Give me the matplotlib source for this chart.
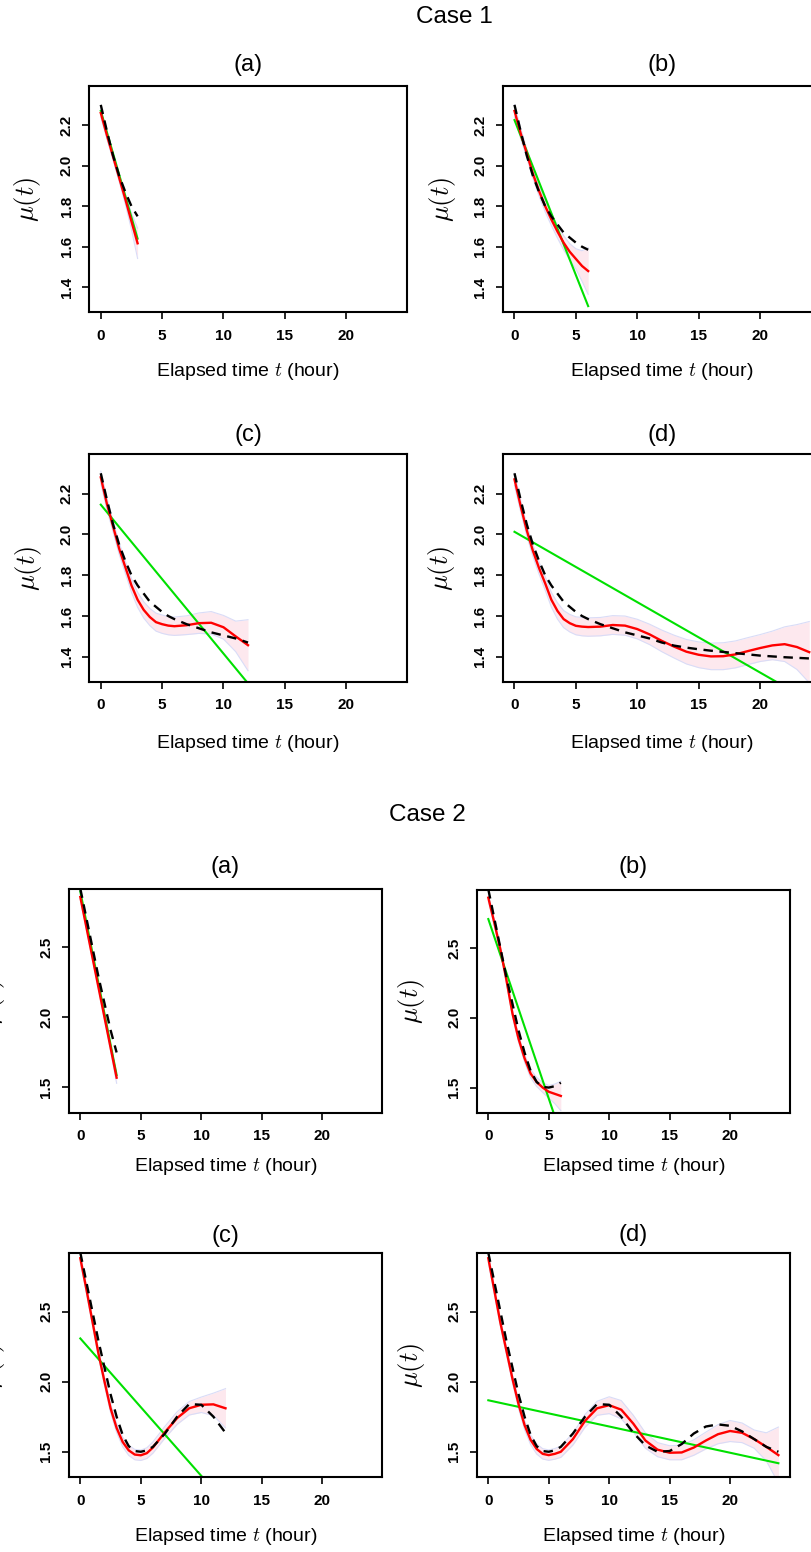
import numpy as np
import matplotlib
matplotlib.use("Agg")
import matplotlib.pyplot as plt

plt.rcParams["font.family"] = ["Liberation Sans", "DejaVu Sans"]
plt.rcParams["mathtext.fontset"] = "cm"

W, H = 812, 1552

# ---------------------------------------------------------------- data
t_grid = [0, 0.5, 1, 1.5, 2, 2.5, 3, 3.5, 4, 4.5, 5, 5.5, 6,
          7, 8, 9, 10, 11, 12, 13, 14, 15, 16, 17, 18, 19, 20, 21, 22, 23, 24]
horizons = [3, 6, 12, 24]
panel_tags = ["(a)", "(b)", "(c)", "(d)"]

# Case 1: true mean function
case1_true = [2.30, 2.17, 2.05, 1.95, 1.87, 1.80, 1.75, 1.71, 1.67, 1.645, 1.62, 1.60, 1.585,
              1.56, 1.54, 1.52, 1.505, 1.49, 1.47, 1.455, 1.445, 1.437, 1.43, 1.424, 1.418,
              1.412, 1.406, 1.402, 1.398, 1.395, 1.392]
# Case 1: estimated mean per observation horizon
case1_est_a = [2.26, 2.15, 2.045, 1.94, 1.835, 1.725, 1.617]
case1_est_b = [2.27, 2.16, 2.06, 1.96, 1.875, 1.80, 1.735, 1.675, 1.62, 1.575, 1.54, 1.505, 1.48]
case1_est_c = [2.28, 2.15, 2.04, 1.93, 1.84, 1.75, 1.68, 1.63, 1.595, 1.57, 1.56, 1.553, 1.55,
               1.555, 1.565, 1.567, 1.545, 1.50, 1.457]
case1_est_d = [2.27, 2.14, 2.02, 1.92, 1.835, 1.76, 1.68, 1.625, 1.585, 1.565, 1.552, 1.548, 1.546,
               1.548, 1.556, 1.553, 1.536, 1.51, 1.478, 1.45, 1.425, 1.41, 1.402, 1.403, 1.412,
               1.428, 1.443, 1.456, 1.462, 1.448, 1.423]
# Case 1: half-width of the pointwise band
case1_hw_a = [0.02, 0.018, 0.017, 0.018, 0.025, 0.04, 0.075]
case1_hw_b = [0.03, 0.025, 0.022, 0.022, 0.025, 0.028, 0.03, 0.032, 0.035, 0.04, 0.05, 0.075, 0.115]
case1_hw_c = [0.03, 0.028, 0.027, 0.028, 0.03, 0.033, 0.037, 0.04, 0.042, 0.044, 0.045, 0.045, 0.045,
              0.046, 0.05, 0.055, 0.058, 0.075, 0.125]
case1_hw_d = [0.03, 0.028, 0.027, 0.028, 0.03, 0.033, 0.036, 0.04, 0.042, 0.043, 0.044, 0.045, 0.045,
              0.045, 0.046, 0.047, 0.048, 0.05, 0.053, 0.056, 0.06, 0.063, 0.065, 0.066, 0.066,
              0.066, 0.066, 0.07, 0.085, 0.11, 0.15]
# Case 1: linear fit (intercept, slope)
case1_lin_intercept = [2.27, 2.225, 2.146, 2.013]
case1_lin_slope = [-0.21, -0.153, -0.073, -0.0345]

# Case 2: true mean function
case2_true = [2.92, 2.71, 2.50, 2.29, 2.10, 1.91, 1.75, 1.62, 1.54, 1.505, 1.50, 1.51, 1.535,
              1.63, 1.75, 1.84, 1.835, 1.75, 1.635, 1.545, 1.50, 1.505, 1.555, 1.63, 1.68,
              1.695, 1.685, 1.645, 1.59, 1.535, 1.50]
case2_est_a = [2.86, 2.645, 2.43, 2.215, 2.0, 1.785, 1.57]
case2_est_b = [2.86, 2.68, 2.49, 2.27, 2.03, 1.85, 1.71, 1.60, 1.54, 1.50, 1.47, 1.455, 1.44]
case2_est_c = [2.88, 2.66, 2.43, 2.20, 2.00, 1.81, 1.67, 1.57, 1.51, 1.48, 1.475, 1.49, 1.53,
               1.64, 1.74, 1.81, 1.835, 1.838, 1.81]
case2_est_d = [2.88, 2.65, 2.42, 2.22, 2.02, 1.84, 1.69, 1.585, 1.52, 1.485, 1.476, 1.485, 1.50,
               1.59, 1.72, 1.81, 1.832, 1.80, 1.70, 1.58, 1.515, 1.493, 1.495, 1.53, 1.58,
               1.625, 1.648, 1.635, 1.59, 1.535, 1.476]
case2_hw_a = [0.015, 0.012, 0.01, 0.01, 0.012, 0.02, 0.04]
case2_hw_b = [0.025, 0.022, 0.02, 0.02, 0.022, 0.025, 0.028, 0.03, 0.032, 0.035, 0.045, 0.07, 0.105]
case2_hw_c = [0.03, 0.028, 0.026, 0.026, 0.028, 0.03, 0.032, 0.034, 0.036, 0.037, 0.037, 0.038, 0.04,
              0.042, 0.045, 0.048, 0.055, 0.08, 0.14]
case2_hw_d = [0.03, 0.028, 0.026, 0.026, 0.028, 0.03, 0.032, 0.034, 0.036, 0.037, 0.037, 0.038, 0.04,
              0.042, 0.045, 0.05, 0.06, 0.065, 0.06, 0.055, 0.05, 0.05, 0.052, 0.055, 0.06,
              0.068, 0.075, 0.07, 0.065, 0.1, 0.2]
case2_lin_intercept = [2.90, 2.707, 2.308, 1.867]
case2_lin_slope = [-0.437, -0.257, -0.098, -0.0187]

x_ticks = [0, 5, 10, 15, 20]
case1_yticks = [1.4, 1.6, 1.8, 2.0, 2.2]
case2_yticks = [1.5, 2.0, 2.5]
case1_ylim = (1.278, 2.393)
case2_ylim = (1.32, 2.915)
x_lim = (-0.96, 24.96)

# ---------------------------------------------------------------- layout (pixels)
# (left, top, right, bottom) of each plotting region
case1_boxes = [(89, 86, 407, 312), (502.7, 86, 821, 312),
               (89, 454.3, 407, 681.7), (502.7, 454.3, 821, 681.7)]
case2_boxes = [(68.7, 889.3, 382.3, 1112.7), (476.7, 890, 790, 1112.7),
               (68.7, 1253.3, 382.3, 1477), (476.7, 1253.3, 790, 1477)]
case1_ylabel_x = [28, 443, 29, 442]
case2_ylabel_x = [-8, 411.7, -8, 411.7]
case1_title_gap = [21, 21, 19, 19]
case2_title_gap = [22.6, 23, 17, 18]
case1_xlabel_gap = [60, 60, 61.6, 61.6]
case2_xlabel_gap = [54, 54, 59.7, 59.7]


def fx(x):
    return x / W


def fy(y):
    return 1 - y / H


fig = plt.figure(figsize=(W / 100, H / 100), dpi=100)
fig.patch.set_facecolor("white")


def draw_panel(box, tag, horizon, true_vals, est_vals, hw_vals, b0, b1,
               ylim, yticks, ylabel_x, title_gap, xlabel_gap):
    left, top, right, bottom = box
    ax = fig.add_axes([fx(left), fy(bottom), (right - left) / W, (bottom - top) / H])
    n = len(est_vals)
    t_est = np.array(t_grid[:n])
    est = np.array(est_vals)
    hw = np.array(hw_vals)
    n_true = sum(1 for t in t_grid if t <= horizon)
    t_true = np.array(t_grid[:n_true])
    truth = np.array(true_vals[:n_true])

    ax.fill_between(t_est, est - hw, est + hw, color="#fde8ee", lw=0, zorder=1)
    ax.plot(t_est, est - hw, color="#d9dcf7", lw=0.8, zorder=1.5)
    ax.plot(t_est, est + hw, color="#d9dcf7", lw=0.8, zorder=1.5)
    t_lin = np.array([0.0, horizon])
    ax.plot(t_lin, b0 + b1 * t_lin, color="#00e000", lw=1.5, zorder=2)
    ax.plot(t_est, est, color="#ff0000", lw=1.7, zorder=3)
    ax.plot(t_true, truth, color="black", lw=1.7, linestyle=(0, (4.0, 2.8)), zorder=4)

    ax.set_xlim(*x_lim)
    ax.set_ylim(*ylim)
    ax.set_xticks(x_ticks)
    ax.set_xticklabels([str(v) for v in x_ticks])
    ax.set_yticks(yticks)
    ax.set_yticklabels([f"{v:.1f}" for v in yticks], rotation=90, va="center")
    for lab in ax.get_xticklabels() + ax.get_yticklabels():
        lab.set_fontweight("bold")
        lab.set_fontsize(11)
    ax.tick_params(axis="both", direction="out", length=5, width=1.2, color="black")
    ax.tick_params(axis="x", pad=7)
    ax.tick_params(axis="y", pad=6)
    for sp in ax.spines.values():
        sp.set_linewidth(1.5)
        sp.set_color("black")

    cx = (left + right) / 2
    fig.text(fx(cx), fy(top - title_gap), tag, ha="center", va="center", fontsize=17)
    fig.text(fx(cx), fy(bottom + xlabel_gap), r"Elapsed time $t$ (hour)",
             ha="center", va="center", fontsize=14)
    fig.text(fx(ylabel_x), fy((top + bottom) / 2), r"$\mu(t)$", rotation=90,
             ha="center", va="center", fontsize=19)
    return ax


case1_est = [case1_est_a, case1_est_b, case1_est_c, case1_est_d]
case1_hw = [case1_hw_a, case1_hw_b, case1_hw_c, case1_hw_d]
case2_est = [case2_est_a, case2_est_b, case2_est_c, case2_est_d]
case2_hw = [case2_hw_a, case2_hw_b, case2_hw_c, case2_hw_d]

for i in range(4):
    draw_panel(case1_boxes[i], panel_tags[i], horizons[i], case1_true, case1_est[i], case1_hw[i],
               case1_lin_intercept[i], case1_lin_slope[i], case1_ylim, case1_yticks,
               case1_ylabel_x[i], case1_title_gap[i], case1_xlabel_gap[i])
    draw_panel(case2_boxes[i], panel_tags[i], horizons[i], case2_true, case2_est[i], case2_hw[i],
               case2_lin_intercept[i], case2_lin_slope[i], case2_ylim, case2_yticks,
               case2_ylabel_x[i], case2_title_gap[i], case2_xlabel_gap[i])

fig.text(fx(454.5), fy(17), "Case 1", ha="center", va="center", fontsize=17.5)
fig.text(fx(427), fy(815), "Case 2", ha="center", va="center", fontsize=17.5)

fig.savefig("out.png", dpi=100, facecolor="white")
